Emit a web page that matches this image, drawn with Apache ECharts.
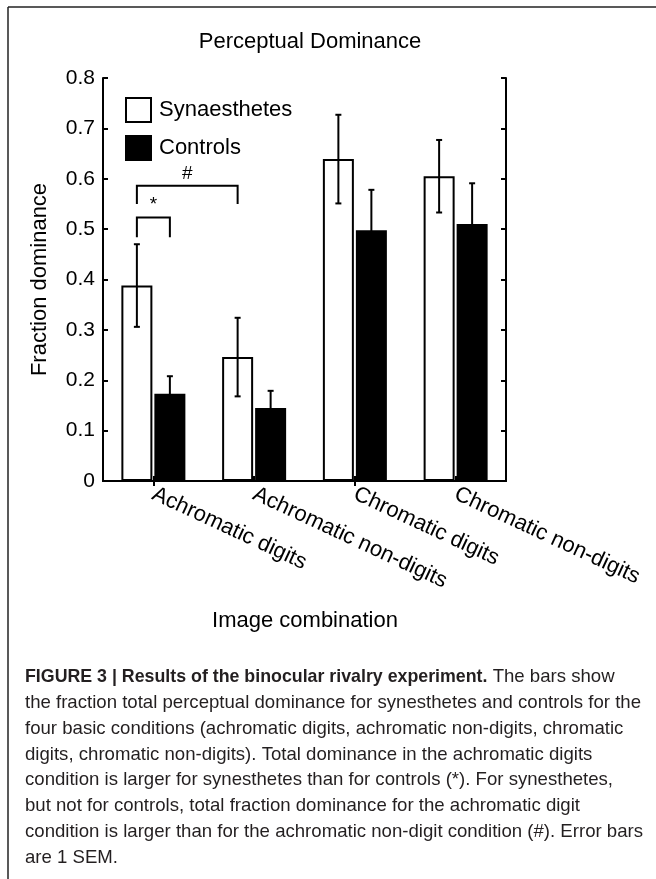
<!DOCTYPE html>
<html>
<head>
<meta charset="utf-8">
<script src="https://cdn.jsdelivr.net/npm/echarts@6/dist/echarts.min.js"></script>
<style>
html,body{margin:0;padding:0;background:#fff;}
#chart{width:656px;height:879px;}
</style>
</head>
<body>
<div id="chart"></div>
<script>
// ---- data ----
const categories = ['Achromatic digits', 'Achromatic non-digits', 'Chromatic digits', 'Chromatic non-digits'];
const seriesNames = ['Synaesthetes', 'Controls'];
const synValues = [0.388, 0.246, 0.639, 0.605];
const synErr = [0.082, 0.078, 0.088, 0.072];
const ctrlValues = [0.173, 0.145, 0.498, 0.510];
const ctrlErr = [0.035, 0.034, 0.080, 0.081];
// significance brackets: [catA, seriesA, catB, seriesB, top, legEnd]
const bracketLabels = ['*', '#'];
const bracketSpec = [
  [0, 0, 0, 1, 0.523, 0.484],
  [0, 0, 1, 0, 0.586, 0.550]
];
const titleText = 'Perceptual Dominance';
const xAxisTitle = 'Image combination';
const yAxisTitle = 'Fraction dominance';
const captionLines = [
  '{b|FIGURE 3 | Results of the binocular rivalry experiment.} The bars show',
  'the fraction total perceptual dominance for synesthetes and controls for the',
  'four basic conditions (achromatic digits, achromatic non-digits, chromatic',
  'digits, chromatic non-digits). Total dominance in the achromatic digits',
  'condition is larger for synesthetes than for controls (*). For synesthetes,',
  'but not for controls, total fraction dominance for the achromatic digit',
  'condition is larger than for the achromatic non-digit condition (#). Error bars',
  'are 1 SEM.'
];

// ---- layout ----
const FONT = '"Liberation Sans", Arial, Helvetica, sans-serif';
const BAR_W = 31;
const BAR_GAP_PX = 2;
const HALF = (BAR_W + BAR_GAP_PX) / 2;
const sideOffset = [-HALF, HALF];

const chart = echarts.init(document.getElementById('chart'), null, {renderer: 'canvas'});

function errRender(side) {
  return function (params, api) {
    const cat = api.value(0);
    const lo = api.coord([cat, api.value(1)]);
    const hi = api.coord([cat, api.value(2)]);
    const x = lo[0] + sideOffset[side];
    const cap = 3;
    const st = {stroke: '#000', lineWidth: 2, fill: null};
    return {
      type: 'group',
      children: [
        {type: 'line', shape: {x1: x, y1: lo[1], x2: x, y2: hi[1]}, style: st},
        {type: 'line', shape: {x1: x - cap, y1: lo[1], x2: x + cap, y2: lo[1]}, style: st},
        {type: 'line', shape: {x1: x - cap, y1: hi[1], x2: x + cap, y2: hi[1]}, style: st}
      ]
    };
  };
}

function bracketRender(params, api) {
  const a = api.coord([api.value(0), api.value(4)]);
  const b = api.coord([api.value(2), api.value(4)]);
  const legY = api.coord([api.value(0), api.value(5)])[1];
  const xa = a[0] + sideOffset[api.value(1)];
  const xb = b[0] + sideOffset[api.value(3)];
  const yt = a[1];
  return {
    type: 'group',
    children: [
      {type: 'polyline', shape: {points: [[xa, legY], [xa, yt], [xb, yt], [xb, legY]]},
       style: {stroke: '#000', lineWidth: 2, fill: null}},
      {type: 'text', x: (xa + xb) / 2, y: yt - 3,
       style: {text: bracketLabels[params.dataIndex], font: '19px ' + FONT, fill: '#000',
               textAlign: 'center', textVerticalAlign: 'bottom'}}
    ]
  };
}

const axisLineStyle = {color: '#000', width: 2};

const option = {
  animation: false,
  backgroundColor: '#fff',
  title: {
    text: titleText, left: 305, top: 26, textAlign: 'center',
    textStyle: {fontFamily: FONT, fontSize: 22, fontWeight: 'normal', color: '#000'}
  },
  legend: {
    data: seriesNames, orient: 'vertical', left: 120, top: 92,
    itemWidth: 25, itemHeight: 24, itemGap: 12, icon: 'rect',
    textStyle: {fontFamily: FONT, fontSize: 22, color: '#000', padding: [0, 0, 0, 3]},
    selectedMode: false
  },
  grid: {left: 103, top: 78, width: 403, height: 403, containLabel: false},
  xAxis: [
    {
      type: 'category', data: categories, position: 'bottom',
      axisLine: {show: true, lineStyle: axisLineStyle},
      axisTick: {show: true, inside: true, alignWithLabel: true, length: 5, lineStyle: axisLineStyle},
      axisLabel: {rotate: -25, interval: 0, margin: 12, fontFamily: FONT, fontSize: 22, color: '#000'}
    },
    {
      type: 'category', data: categories, position: 'top',
      axisLine: {show: true, lineStyle: axisLineStyle},
      axisTick: {show: true, inside: true, alignWithLabel: true, length: 5, lineStyle: axisLineStyle},
      axisLabel: {show: false}
    }
  ],
  yAxis: [
    {
      type: 'value', min: 0, max: 0.8, interval: 0.1, position: 'left',
      name: yAxisTitle, nameLocation: 'middle', nameGap: 52, nameRotate: 90,
      nameTextStyle: {fontFamily: FONT, fontSize: 22, color: '#000'},
      splitLine: {show: false},
      axisLine: {show: true, lineStyle: axisLineStyle},
      axisTick: {show: true, inside: true, length: 5, lineStyle: axisLineStyle},
      axisLabel: {margin: 8, fontFamily: FONT, fontSize: 21, color: '#000',
        formatter: v => String(Math.round(v * 10) / 10)}
    },
    {
      type: 'value', min: 0, max: 0.8, interval: 0.1, position: 'right',
      splitLine: {show: false},
      axisLine: {show: true, lineStyle: axisLineStyle},
      axisTick: {show: true, inside: true, length: 5, lineStyle: axisLineStyle},
      axisLabel: {show: false}
    }
  ],
  series: [
    {
      name: seriesNames[0], type: 'bar', data: synValues, barWidth: BAR_W,
      barGap: (BAR_GAP_PX / BAR_W * 100) + '%',
      itemStyle: {color: '#fff', borderColor: '#000', borderWidth: 2}, z: 2
    },
    {
      name: seriesNames[1], type: 'bar', data: ctrlValues, barWidth: BAR_W,
      itemStyle: {color: '#000', borderColor: '#000', borderWidth: 2}, z: 2
    },
    {
      type: 'custom', renderItem: errRender(0), z: 5, silent: true,
      data: categories.map((c, i) => [i, synValues[i] - synErr[i], synValues[i] + synErr[i]])
    },
    {
      type: 'custom', renderItem: errRender(1), z: 5, silent: true,
      data: categories.map((c, i) => [i, ctrlValues[i] - ctrlErr[i], ctrlValues[i] + ctrlErr[i]])
    },
    {
      type: 'custom', renderItem: bracketRender, z: 5, silent: true,
      data: bracketSpec
    }
  ],
  graphic: [
    {type: 'line', shape: {x1: 8, y1: 7, x2: 656, y2: 7}, style: {stroke: '#222', lineWidth: 1.5}},
    {type: 'line', shape: {x1: 8, y1: 7, x2: 8, y2: 879}, style: {stroke: '#222', lineWidth: 1.5}},
    {type: 'text', x: 305, y: 621,
     style: {text: xAxisTitle, font: '22px ' + FONT, fill: '#000', textAlign: 'center', textVerticalAlign: 'middle'}}
  ].concat(captionLines.map((t, i) => ({
    type: 'text', x: 25, y: 677 + i * 25.8,
    style: {
      text: t, font: '18.6px ' + FONT, fill: '#231f20', textVerticalAlign: 'middle',
      rich: {b: {fontWeight: 'bold', fontFamily: FONT, fontSize: 17.8, fill: '#231f20'}}
    }
  })))
};

chart.setOption(option);
</script>
</body>
</html>
